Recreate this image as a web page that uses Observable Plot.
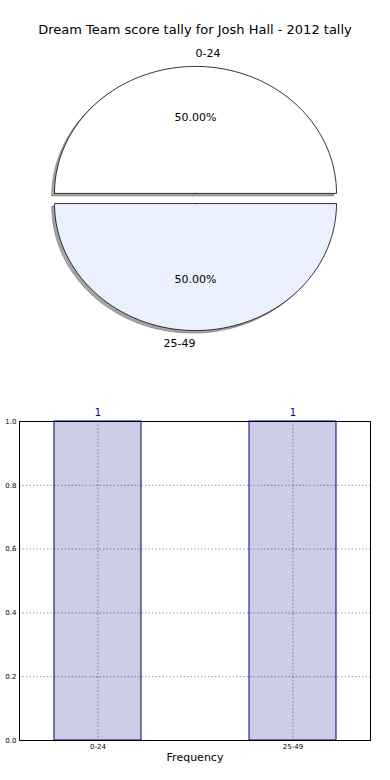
<!DOCTYPE html>
<html><head><meta charset="utf-8">
<script src="https://cdn.jsdelivr.net/npm/d3@7"></script>
<script src="https://cdn.jsdelivr.net/npm/@observablehq/plot@0.6"></script>
<style>
body{margin:0;background:#fff;font-family:"DejaVu Sans",sans-serif;}
#wrap{position:relative;width:390px;height:780px;overflow:hidden;}
#title{position:absolute;top:20px;left:0;width:390px;text-align:center;font-size:13px;line-height:20px;color:#000;}
#pie{position:absolute;top:40px;left:0}
#bar{position:absolute;top:390px;left:0}
svg{font-family:"DejaVu Sans",sans-serif;}
</style></head><body>
<div id="wrap"><div id="title"></div><div id="pie"></div><div id="bar"></div></div>
<script>
const titleText = "Dream Team score tally for Josh Hall - 2012 tally";
const categories = ["0-24", "25-49"];
const counts = [1, 1];
const sliceColors = ["#ffffff", "#eaf0fd"];
const explode = [0.04, 0.04];
const yTicks = [0, 0.2, 0.4, 0.6, 0.8, 1.0];
const xLabel = "Frequency";

document.getElementById("title").textContent = titleText;

// ---- pie geometry from data ----
const total = d3.sum(counts);
let cum = 0;
const wedges = [], shadows = [], labels = [], pcts = [];
counts.forEach((v, i) => {
  const a0 = cum / total * 2 * Math.PI; cum += v; const a1 = cum / total * 2 * Math.PI;
  const mid = (a0 + a1) / 2;
  const cx = explode[i] * Math.cos(mid), cy = explode[i] * Math.sin(mid);
  const n = 120;
  const pts = [{x: cx, y: cy}];
  for (let k = 0; k <= n; k++) { const a = a0 + (a1 - a0) * k / n; pts.push({x: cx + Math.cos(a), y: cy + Math.sin(a)}); }
  pts.push({x: cx, y: cy});
  pts.forEach(p => { wedges.push({...p, cat: categories[i]}); shadows.push({x: p.x - 0.02, y: p.y - 0.02, cat: categories[i]}); });
  labels.push({x: cx + 1.1 * Math.cos(mid), y: cy + 1.1 * Math.sin(mid), text: categories[i], anchor: Math.cos(mid) >= 0 ? "start" : "end"});
  pcts.push({x: cx + 0.6 * Math.cos(mid), y: cy + 0.6 * Math.sin(mid), text: (v / total * 100).toFixed(2) + "%"});
});

const pie = Plot.plot({
  width: 390, height: 350, margin: 0,
  x: {domain: [-1, 1], range: [54, 336], axis: null},
  y: {domain: [-1, 1], range: [285, 31], axis: null},
  marks: [
    ...categories.map(c => Plot.line(shadows.filter(d => d.cat === c), {x: "x", y: "y", fill: "#4d4d4d", fillOpacity: 0.5, stroke: "#4d4d4d", strokeOpacity: 0.5, strokeWidth: 0.8})),
    ...categories.map((c, i) => Plot.line(wedges.filter(d => d.cat === c), {x: "x", y: "y", fill: sliceColors[i], stroke: "black", strokeWidth: 0.8})),
    Plot.text(pcts, {x: "x", y: "y", text: "text", fontSize: 11, fill: "black"}),
    Plot.text(labels.filter(d => d.anchor === "start"), {x: "x", y: "y", text: "text", fontSize: 11, textAnchor: "start", fill: "black"}),
    Plot.text(labels.filter(d => d.anchor === "end"), {x: "x", y: "y", text: "text", fontSize: 11, textAnchor: "end", fill: "black"})
  ]
});
document.getElementById("pie").appendChild(pie);

// ---- bar chart ----
const data = categories.map((c, i) => ({cat: c, count: counts[i]}));
const bar = Plot.plot({
  width: 390, height: 390, marginTop: 31, marginBottom: 40, marginLeft: 19, marginRight: 20,
  x: {domain: categories, paddingInner: 0.554, paddingOuter: 0.177, axis: null},
  y: {domain: [0, 1], axis: null},
  marks: [
    Plot.barY(data, {x: "cat", y: "count", fill: "#cccce6", stroke: "navy", strokeWidth: 1}),
    Plot.gridY(yTicks, {stroke: "#000", strokeOpacity: 0.4, strokeWidth: 1, strokeDasharray: "1.5,2"}),
    Plot.gridX(categories, {stroke: "#000", strokeOpacity: 0.4, strokeWidth: 1, strokeDasharray: "1.5,2"}),
    Plot.frame({stroke: "black", strokeWidth: 1}),
    Plot.axisY(yTicks, {tickSize: 0, tickPadding: 3, fontSize: 7, tickFormat: d3.format(".1f"), label: null}),
    Plot.axisX(categories, {tickSize: 0, tickPadding: 4, fontSize: 7, label: null}),
    Plot.text(data, {x: "cat", y: "count", text: d => String(d.count), dy: -9, fill: "navy", fontSize: 10}),
    Plot.text([xLabel], {frameAnchor: "bottom", dy: 20, fontSize: 11, fill: "black"})
  ]
});
document.getElementById("bar").appendChild(bar);
</script>
</body></html>
